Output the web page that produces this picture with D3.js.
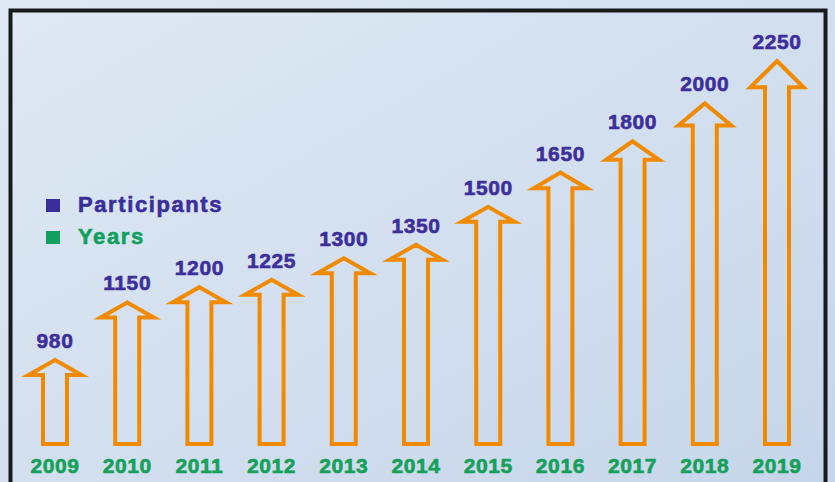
<!DOCTYPE html>
<html>
<head>
<meta charset="utf-8">
<script src="https://cdn.jsdelivr.net/npm/d3@7"></script>
<style>
  body { margin: 0; background: #dde6f1; }
  svg text { font-family: "Liberation Sans", Arial, sans-serif; font-weight: bold; }
</style>
</head>
<body>
<div id="chart"></div>
<script>
// data
var years = ["2009", "2010", "2011", "2012", "2013", "2014", "2015", "2016", "2017", "2018", "2019"];
var participants = [980, 1150, 1200, 1225, 1300, 1350, 1500, 1650, 1800, 2000, 2250];
var legendLabels = ["Participants", "Years"];

var width = 835, height = 482;
var baseY = 446;

var svg = d3.select("#chart").append("svg")
    .attr("width", width)
    .attr("height", height);

// background gradient
var defs = svg.append("defs");
var grad = defs.append("linearGradient")
    .attr("id", "bg")
    .attr("x1", "0%").attr("y1", "0%")
    .attr("x2", "100%").attr("y2", "100%");
grad.append("stop").attr("offset", "0%").attr("stop-color", "#e0e9f4");
grad.append("stop").attr("offset", "100%").attr("stop-color", "#c6d6ea");

svg.append("rect")
    .attr("width", width).attr("height", height)
    .attr("fill", "url(#bg)");

// frame (open at the bottom)
svg.append("path")
    .attr("d", "M10.5,490 L10.5,10.5 L825.5,10.5 L825.5,490")
    .attr("fill", "none")
    .attr("stroke", "#181b1b")
    .attr("stroke-width", 4);

// scales
var xScale = d3.scalePoint()
    .domain(years)
    .range([55, 777]);

// tip position of each arrow
var yScale = d3.scaleLog()
    .domain([980, 2250])
    .range([357, 58]);

var dataset = years.map(function(y, i) {
  return { year: y, value: participants[i] };
});

// build the outline of an up arrow
function arrowPath(d) {
  var cx = xScale(d.year);
  var tip = yScale(d.value);
  var h = baseY - tip;
  var headLen = Math.max(20, 20 + (h - 270) * 0.095);
  var headHalf = 26.5, shaftHalf = 12;
  var t = tip + 3, hb = tip + headLen - 2, b = baseY - 2;
  return "M" + cx + "," + t +
    "L" + (cx + headHalf) + "," + hb +
    "L" + (cx + shaftHalf) + "," + hb +
    "L" + (cx + shaftHalf) + "," + b +
    "L" + (cx - shaftHalf) + "," + b +
    "L" + (cx - shaftHalf) + "," + hb +
    "L" + (cx - headHalf) + "," + hb + "Z";
}

svg.selectAll(".arrow")
  .data(dataset).enter().append("path")
    .attr("class", "arrow")
    .attr("d", arrowPath)
    .attr("fill", "none")
    .attr("stroke", "#f28a00")
    .attr("stroke-width", 4)
    .attr("stroke-linejoin", "miter");

// value labels
svg.selectAll(".value")
  .data(dataset).enter().append("text")
    .attr("class", "value")
    .attr("x", function(d) { return xScale(d.year); })
    .attr("y", function(d) { return yScale(d.value) - 9; })
    .attr("text-anchor", "middle")
    .attr("font-size", 21)
    .attr("letter-spacing", 0.6)
    .attr("fill", "#3d2f9b")
    .attr("stroke", "#3d2f9b")
    .attr("stroke-width", 0.6)
    .text(function(d) { return d.value; });

// year labels
svg.selectAll(".year")
  .data(dataset).enter().append("text")
    .attr("class", "year")
    .attr("x", function(d) { return xScale(d.year); })
    .attr("y", 473)
    .attr("text-anchor", "middle")
    .attr("font-size", 21)
    .attr("letter-spacing", 0.6)
    .attr("fill", "#16a05a")
    .attr("stroke", "#16a05a")
    .attr("stroke-width", 0.6)
    .text(function(d) { return d.year; });

// legend
var legendColors = ["#3a2f9a", "#12a05e"];
var legend = svg.selectAll(".legend")
  .data(legendLabels).enter().append("g")
    .attr("class", "legend")
    .attr("transform", function(d, i) { return "translate(" + [46, 199 + i * 32] + ")"; });

legend.append("rect")
    .attr("width", 14).attr("height", 13)
    .attr("fill", function(d, i) { return legendColors[i]; });

legend.append("text")
    .attr("x", 32)
    .attr("y", 13)
    .attr("font-size", 22)
    .attr("letter-spacing", 1.6)
    .attr("fill", function(d, i) { return legendColors[i]; })
    .attr("stroke", function(d, i) { return legendColors[i]; })
    .attr("stroke-width", 0.6)
    .text(function(d) { return d; });
</script>
</body>
</html>
